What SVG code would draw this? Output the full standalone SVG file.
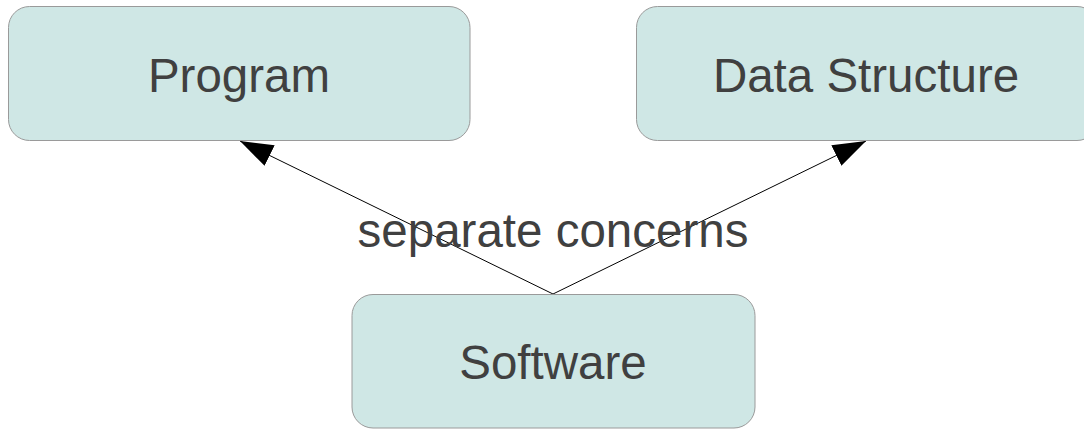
<svg xmlns="http://www.w3.org/2000/svg" width="1084" height="429" viewBox="0 0 1084 429">
  <style>
    .box { fill: #cfe7e5; stroke: #9a9a9a; stroke-width: 1; }
    .lbl { font-family: "Liberation Sans", Arial, sans-serif; font-size: 47.5px; fill: #404040; text-anchor: middle; }
    .conn { stroke: #000; stroke-width: 1; fill: none; }
  </style>
  <defs>
    <marker id="arrow" markerUnits="userSpaceOnUse" markerWidth="34" markerHeight="24" refX="33" refY="11.5" orient="auto">
      <path d="M0,0 L33,11.5 L0,23 z" fill="#000"/>
    </marker>
  </defs>
  <rect width="1084" height="429" fill="#fff"/>
  <g id="connectors">
    <line class="conn" x1="553" y1="294" x2="240" y2="141" marker-end="url(#arrow)"/>
    <line class="conn" x1="553" y1="294" x2="866" y2="141" marker-end="url(#arrow)"/>
    <text class="lbl" x="553" y="247">separate concerns</text>
  </g>
  <g id="program">
    <rect class="box" x="8.5" y="6.5" width="461.5" height="134" rx="21" ry="21"/>
    <text class="lbl" x="239" y="92">Program</text>
  </g>
  <g id="data-structure">
    <rect class="box" x="636.5" y="6.5" width="461.5" height="134" rx="21" ry="21"/>
    <text class="lbl" x="866" y="92">Data Structure</text>
  </g>
  <g id="software">
    <rect class="box" x="352" y="294.5" width="403" height="133.5" rx="21" ry="21"/>
    <text class="lbl" x="553" y="379">Software</text>
  </g>
</svg>
